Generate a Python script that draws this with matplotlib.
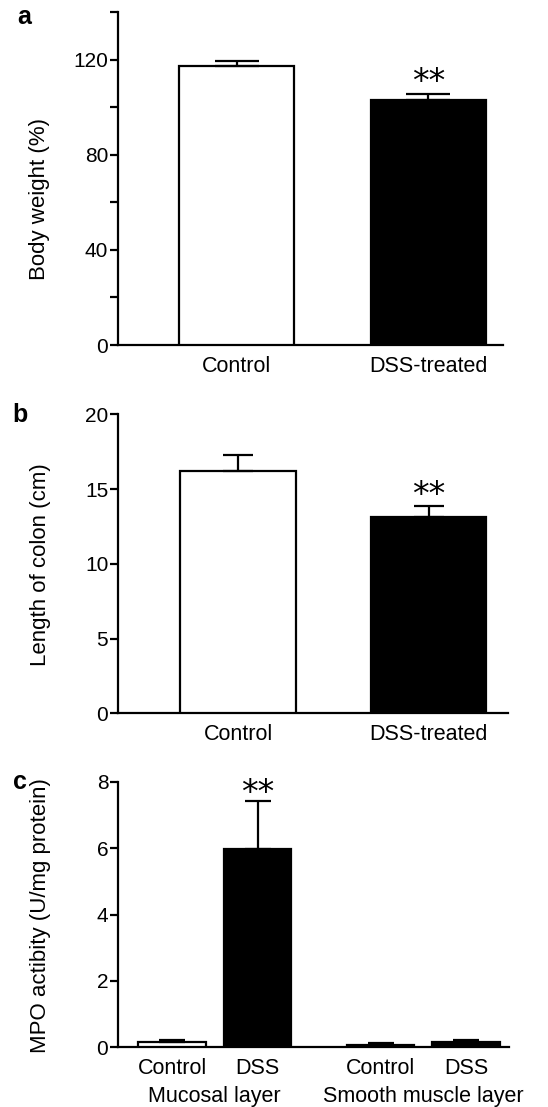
import numpy as np
import matplotlib
matplotlib.use('Agg')
import matplotlib.pyplot as plt
from matplotlib.ticker import MultipleLocator

plt.rcParams['font.family'] = ['Liberation Sans', 'DejaVu Sans']

# panel a: body weight
groups_ab = ['Control', 'DSS-treated']
weight = [117.2, 102.9]
weight_err = [2.1, 2.6]

# panel b: colon length
colon = [16.23, 13.15]
colon_err = [1.07, 0.75]

# panel c: MPO activity
groups_c = ['Control', 'DSS', 'Control', 'DSS']
layers = ['Mucosal layer', 'Smooth muscle layer']
mpo = [0.17, 5.98, 0.08, 0.15]
mpo_err = [0.05, 1.44, 0.05, 0.07]

fig = plt.figure(figsize=(5.48, 11.07), dpi=100)

LW = 1.6
TICK = 15
XTICK = 15.5
LAB = 16


def style(ax):
    for s in ['top', 'right']:
        ax.spines[s].set_visible(False)
    for s in ['left', 'bottom']:
        ax.spines[s].set_linewidth(LW)
    ax.tick_params(axis='y', direction='out', length=6, width=LW, labelsize=TICK, pad=1)
    ax.tick_params(axis='y', which='minor', direction='out', length=6, width=LW)
    ax.tick_params(axis='x', length=0, labelsize=XTICK, pad=8)


def bars(ax, x, vals, errs, colors, width, cap):
    ax.bar(x, vals, width=width, color=colors, edgecolor='black', linewidth=LW,
           yerr=[np.zeros(len(errs)), errs],
           error_kw=dict(ecolor='black', elinewidth=LW, capsize=cap, capthick=LW),
           zorder=3)


def stars(ax, x, top, dy):
    # significance mark just above the error cap
    ax.annotate('**', (x, top), xytext=(0, dy), textcoords='offset points',
                ha='center', va='baseline', fontsize=24, family='DejaVu Sans')


# ---- a ----
ax1 = fig.add_axes([0.2153, 0.6883, 0.7026, 0.3008])
style(ax1)
xa = np.arange(len(groups_ab))
bars(ax1, xa, weight, weight_err, ['white', 'black'], 0.6, 15.5)
ax1.set_xlim(-0.621, 1.389)
ax1.set_ylim(0, 140)
ax1.yaxis.set_major_locator(MultipleLocator(40))
ax1.yaxis.set_minor_locator(MultipleLocator(20))
ax1.set_xticks(xa)
ax1.set_xticklabels(groups_ab)
ax1.set_ylabel('Body weight (%)', fontsize=LAB)
ax1.yaxis.set_label_coords(-0.177, 0.438)
stars(ax1, xa[1], weight[1] + weight_err[1], 1.5)

# ---- b ----
ax2 = fig.add_axes([0.2153, 0.3556, 0.7117, 0.2701])
style(ax2)
bars(ax2, xa, colon, colon_err, ['white', 'black'], 0.607, 10.5)
ax2.set_xlim(-0.63, 1.417)
ax2.set_ylim(0, 20)
ax2.yaxis.set_major_locator(MultipleLocator(5))
ax2.set_xticks(xa)
ax2.set_xticklabels(groups_ab)
ax2.set_ylabel('Length of colon (cm)', fontsize=LAB)
ax2.yaxis.set_label_coords(-0.172, 0.498)
stars(ax2, xa[1], colon[1] + colon_err[1], 0.5)

# ---- c ----
ax3 = fig.add_axes([0.2153, 0.0539, 0.7135, 0.2397])
style(ax3)
xc = np.array([0, 1, 2.44, 3.44])
bars(ax3, xc, mpo, mpo_err, ['white', 'black', 'black', 'black'], 0.79, 9.5)
ax3.set_xlim(-0.632, 3.94)
ax3.set_ylim(0, 8)
ax3.yaxis.set_major_locator(MultipleLocator(2))
ax3.set_xticks(xc)
ax3.set_xticklabels(groups_c)
ax3.set_ylabel('MPO actibity (U/mg protein)', fontsize=LAB)
ax3.yaxis.set_label_coords(-0.172, 0.496)
stars(ax3, xc[1], mpo[1] + mpo_err[1], -1)
for i, name in enumerate(layers):
    mid = (xc[2 * i] + xc[2 * i + 1]) / 2
    ax3.text(mid, -0.187, name, transform=ax3.get_xaxis_transform(),
             ha='center', va='center', fontsize=XTICK)

# panel letters
for lbl, x, y in [('a', 0.044, 0.9846), ('b', 0.0365, 0.625), ('c', 0.0365, 0.2936)]:
    fig.text(x, y, lbl, fontsize=18, fontweight='bold', ha='center', va='center')

fig.savefig('out.png', dpi=100)
